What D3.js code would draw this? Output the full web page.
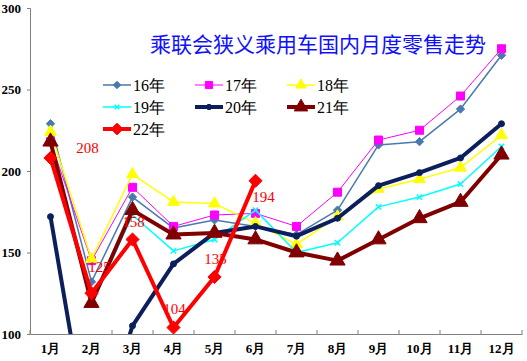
<!DOCTYPE html>
<html>
<head>
<meta charset="utf-8">
<script src="https://cdn.jsdelivr.net/npm/d3@7"></script>
<style>
  body { margin: 0; background: #fff; }
  svg { display: block; }
  .tick text { font-family: "Liberation Serif", serif; font-weight: bold; font-size: 13px; fill: #000; }
</style>
</head>
<body>
<div id="chart"></div>
<script>
// months and y ticks
var months = ["1月","2月","3月","4月","5月","6月","7月","8月","9月","10月","11月","12月"];
var yTicks = [100, 150, 200, 250, 300];

// monthly retail (10k units) per year
var y16 = [229, 132, 184, 165, 170, 166, 161, 176, 216, 218, 238, 271];
var y17 = [218, 145, 190, 166, 173, 174, 166, 187, 219, 225, 246, 275];
var y18 = [224, 146, 198, 181, 180, 168, 155, 172, 189, 195, 202, 222];
var y19 = [217, 118, 173, 151, 158, 176, 150, 156, 178, 184, 192, 215];
var y20 = [172, 25, 105, 143, 162, 166, 160, 171, 191, 199, 208, 229];
var y21 = [218, 119, 176, 161, 162, 158, 150, 145, 158, 171, 181, 210];
var y22 = [208, 125, 158, 104, 135, 194];

var series = [
  {name: "16年", values: y16, color: "#4a79b0", width: 1.5, marker: "diamond", size: 44},
  {name: "17年", values: y17, color: "#ff00ff", width: 1, marker: "square", size: 64},
  {name: "18年", values: y18, color: "#ffff00", width: 1.5, marker: "triangle", size: 60},
  {name: "19年", values: y19, color: "#00ffff", width: 1.5, marker: "cross", size: 20},
  {name: "20年", values: y20, color: "#0a1f5c", width: 4, marker: "circle", size: 28},
  {name: "21年", values: y21, color: "#800000", width: 4, marker: "triangle", size: 100},
  {name: "22年", values: y22, color: "#ff0000", width: 4, marker: "diamond", size: 110}
];

var W = 527, H = 361;
var svg = d3.select("#chart").append("svg").attr("width", W).attr("height", H);

var x = d3.scaleBand().domain(months).range([30, 522]).padding(0);
var y = d3.scaleLinear().domain([100, 300]).range([334, 8]);
var cx = function(i) { return x(months[i]) + x.bandwidth() / 2; };

svg.append("defs").append("clipPath").attr("id", "clip")
  .append("rect").attr("x", 30).attr("y", 8).attr("width", 493).attr("height", 326);

// axes
var yAxis = svg.append("g").attr("transform", "translate(30,0)")
  .call(d3.axisLeft(y).tickValues(yTicks).tickSize(3).tickPadding(6));
var xAxis = svg.append("g").attr("transform", "translate(0,334)")
  .call(d3.axisBottom(x).tickSize(0).tickPadding(10));
[yAxis, xAxis].forEach(function(a) {
  a.select(".domain").attr("stroke", "#808080");
  a.selectAll(".tick line").attr("stroke", "#808080");
});
// x ticks sit on the band edges and point up
svg.append("g").selectAll("line").data(months.concat([""])).enter().append("line")
  .attr("x1", function(d, i) { return 30 + i * x.bandwidth(); })
  .attr("x2", function(d, i) { return 30 + i * x.bandwidth(); })
  .attr("y1", 334).attr("y2", 330)
  .attr("stroke", "#808080");

function symbolType(m) {
  if (m === "diamond") return d3.symbolDiamond2;
  if (m === "square") return d3.symbolSquare;
  if (m === "triangle") return d3.symbolTriangle;
  if (m === "cross") return d3.symbolTimes;
  return d3.symbolCircle;
}

var line = d3.line().x(function(d, i) { return cx(i); }).y(function(d) { return y(d); });
var plot = svg.append("g").attr("clip-path", "url(#clip)");

series.forEach(function(s) {
  var g = plot.append("g");
  g.append("path").attr("d", line(s.values))
    .attr("fill", "none").attr("stroke", s.color).attr("stroke-width", s.width)
    .attr("stroke-linejoin", "round");
  var sym = d3.symbol().type(symbolType(s.marker)).size(s.size);
  g.selectAll("path.m").data(s.values).enter().append("path").attr("class", "m")
    .attr("transform", function(d, i) { return "translate(" + cx(i) + "," + y(d) + ")"; })
    .attr("d", sym())
    .attr("fill", s.marker === "cross" ? "none" : s.color)
    .attr("stroke", s.color)
    .attr("stroke-width", s.marker === "cross" ? 1.5 : 1);
});

// 22年 value labels
var labelShift = [[37, -5], [8, -21], [1, -12], [1, -13], [1, -13], [8, 21]];
svg.append("g").selectAll("text").data(y22).enter().append("text")
  .attr("x", function(d, i) { return cx(i) + labelShift[i][0]; })
  .attr("y", function(d, i) { return y(d) + labelShift[i][1]; })
  .attr("text-anchor", "middle")
  .attr("font-family", "Liberation Serif, serif").attr("font-size", 15)
  .attr("fill", "#ff0000")
  .text(function(d) { return d; });

// title
svg.append("text").attr("x", 318).attr("y", 52).attr("text-anchor", "middle")
  .attr("font-family", "Noto Sans CJK SC, sans-serif").attr("font-size", 21)
  .attr("fill", "#1010ff")
  .text("乘联会狭义乘用车国内月度零售走势");

// legend
var legend = svg.append("g");
series.forEach(function(s, i) {
  var lx = [103, 195, 287][i % 3], ly = 85 + Math.floor(i / 3) * 22;
  var g = legend.append("g").attr("transform", "translate(" + lx + "," + ly + ")");
  g.append("line").attr("x1", 0).attr("x2", 28).attr("y1", 0).attr("y2", 0)
    .attr("stroke", s.color).attr("stroke-width", s.width);
  g.append("path").attr("transform", "translate(14,0)")
    .attr("d", d3.symbol().type(symbolType(s.marker)).size(s.size * 0.8)())
    .attr("fill", s.marker === "cross" ? "none" : s.color)
    .attr("stroke", s.color).attr("stroke-width", s.marker === "cross" ? 1.5 : 1);
  g.append("text").attr("x", 30).attr("y", 6)
    .attr("font-family", "Liberation Serif, serif").attr("font-size", 16)
    .attr("fill", "#000").text(s.name);
});
</script>
</body>
</html>
